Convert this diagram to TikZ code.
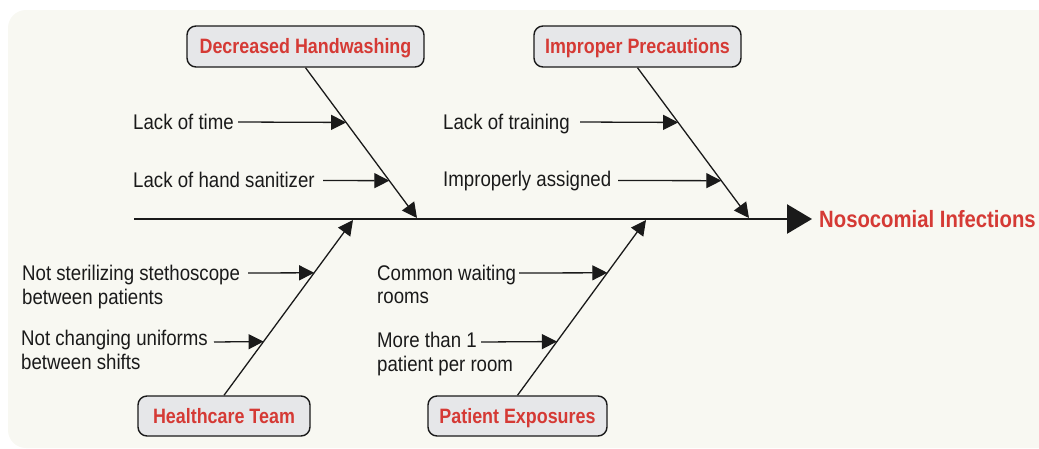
\documentclass[tikz,border=0pt]{standalone}
\usepackage{fontspec}
\newfontfamily\cond{Liberation Sans}[FakeStretch=0.86]
\newfontfamily\condr{Liberation Sans}[FakeStretch=0.88]
\usetikzlibrary{arrows.meta,calc}
\definecolor{bgc}{HTML}{F8F8F2}
\definecolor{boxc}{HTML}{E6E7E9}
\definecolor{redc}{HTML}{D53A35}
\definecolor{inkc}{HTML}{1A1A1A}
\begin{document}
\begin{tikzpicture}[x=1pt,y=-1pt,
 cause/.style={draw=inkc,line width=1.4pt,fill=boxc,rounded corners=9pt,inner sep=0pt,text=redc,
   font=\cond\bfseries\fontsize{20.8}{24}\selectfont,text height=14.5pt,text depth=0pt},
 lbl/.style={anchor=base west,inner sep=0pt,text=inkc,font=\condr\fontsize{21.2}{24}\selectfont},
 sub/.style={draw=inkc,line width=1.3pt,-{Triangle[length=15pt,width=15pt]}},
 spine/.style={draw=inkc,line width=2.6pt,-{Triangle[length=25pt,width=29pt]}}]
\useasboundingbox (0,0) rectangle (1039,448);
\fill[bgc,rounded corners=18pt] (8,10) rectangle (1080,448);

% cause boxes
\node[cause,minimum width=237pt,minimum height=41pt] (dh) at (305.5,46.5) {Decreased Handwashing};
\node[cause,minimum width=207pt,minimum height=41pt] (ip) at (637.5,46.5) {Improper Precautions};
\node[cause,minimum width=172pt,minimum height=40pt] (ht) at (224,416) {Healthcare Team};
\node[cause,minimum width=179pt,minimum height=40pt] (pe) at (517.5,416) {Patient Exposures};

% effect
\node[anchor=base west,inner sep=0pt,text=redc,font=\cond\bfseries\fontsize{23.6}{28}\selectfont] (eff) at (819,227) {Nosocomial Infections};

% spine
\coordinate (s0) at (134,219);
\draw[spine] (s0) -- ($(s0 -| eff.west)+(-7,0)$);

% branch tips on spine
\coordinate (tdh) at (417,218);
\coordinate (tip) at (749,218);
\coordinate (tht) at (353,220);
\coordinate (tpe) at (646,220);
\draw[sub] (dh.south) -- (tdh);
\draw[sub] (ip.south) -- (tip);
\draw[sub] (ht.north) -- (tht);
\draw[sub] (pe.north) -- (tpe);

% sub-cause tips
\coordinate (a1) at ($(dh.south)!0.3642!(tdh)$);
\coordinate (a2) at ($(dh.south)!0.7517!(tdh)$);
\coordinate (b1) at ($(ip.south)!0.3642!(tip)$);
\coordinate (b2) at ($(ip.south)!0.7517!(tip)$);
\coordinate (c1) at ($(ht.north)!0.6989!(tht)$);
\coordinate (c2) at ($(ht.north)!0.3068!(tht)$);
\coordinate (d1) at ($(pe.north)!0.6989!(tpe)$);
\coordinate (d2) at ($(pe.north)!0.3068!(tpe)$);

% sub-cause starts
\coordinate (a1s) at (238,122);
\coordinate (a2s) at (323,180.5);
\coordinate (b1s) at (580,122);
\coordinate (b2s) at (618,180.5);
\coordinate (c1s) at (248,273);
\coordinate (c2s) at (214,342);
\coordinate (d1s) at (519,273);
\coordinate (d2s) at (481,342);

% labels
\node[lbl] (la1) at (133,129) {Lack of time};
\node[lbl] (la2) at (133,187) {Lack of hand sanitizer};
\node[lbl] (lb1) at (443,129) {Lack of training};
\node[lbl] (lb2) at (443,186) {Improperly assigned};
\node[lbl] (lc1) at (22,280.5) {Not sterilizing stethoscope};
\node[lbl] (lc1b) at (22,304) {between patients};
\node[lbl] (lc2) at (21,345.5) {Not changing uniforms};
\node[lbl] (lc2b) at (21,369) {between shifts};
\node[lbl] (ld1) at (377,280.5) {Common waiting};
\node[lbl] (ld1b) at (377,303.5) {rooms};
\node[lbl] (ld2) at (377,347) {More than 1};
\node[lbl] (ld2b) at (377,371) {patient per room};

% sub arrows
\draw[sub] (a1s) -- (a1);
\draw[sub] (a2s) -- (a2);
\draw[sub] (b1s) -- (b1);
\draw[sub] (b2s) -- (b2);
\draw[sub] (c1s) -- (c1);
\draw[sub] (c2s) -- (c2);
\draw[sub] (d1s) -- (d1);
\draw[sub] (d2s) -- (d2);
\end{tikzpicture}
\end{document}
